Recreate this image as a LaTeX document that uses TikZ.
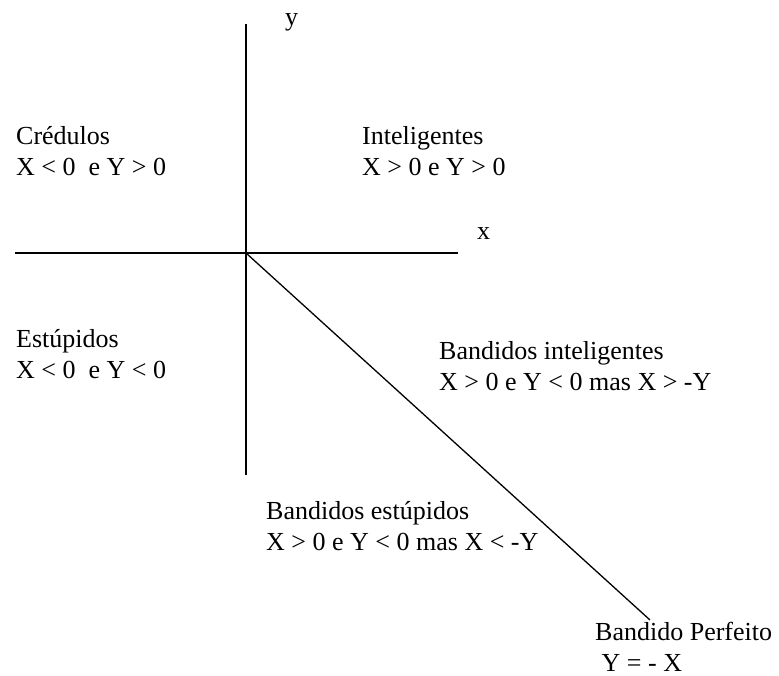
\documentclass[tikz,border=0pt]{standalone}
\usepackage{fontspec}
\setmainfont{Liberation Serif}

\begin{document}
\begin{tikzpicture}[
    x=1pt,y=-1pt,
    font=\fontsize{26}{31}\selectfont,
    axis/.style={line width=1.3pt},
    region/.style={anchor=base west,align=left,inner sep=0pt},
    axislabel/.style={anchor=base west,inner sep=0pt},
    ]
    \useasboundingbox (0,0) rectangle (779,675);
    \coordinate (O) at (246,253);
    \coordinate (ytop) at (246,24);
    \coordinate (ybot) at (246,475);
    \coordinate (xleft) at (15,253);
    \coordinate (xright) at (458,253);
    \coordinate (perf) at (650,620);
    \draw[axis] (ytop) -- (ybot);
    \draw[axis] (xleft) -- (xright);
    \draw[axis] (O) -- (perf);

    \node[axislabel] (ylab) at (285,25) {y};
    \node[axislabel] (xlab) at (477,239) {x};

    % anchored at the baseline of the second line
    \node[region] (cred) at (16,175) {Crédulos\\X < 0~ e Y > 0};
    \node[region] (intel) at (362,175) {Inteligentes\\X > 0 e Y > 0};
    \node[region] (estup) at (16,378) {Estúpidos\\X < 0~ e Y < 0};
    \node[region] (bint) at (439,390) {Bandidos inteligentes\\X > 0 e Y < 0 mas X > -Y};
    \node[region] (best) at (266,550) {Bandidos estúpidos\\X > 0 e Y < 0 mas X < -Y};
    \node[region] (bperf) at (595,671) {Bandido Perfeito\\\ Y = - X};
\end{tikzpicture}
\end{document}
